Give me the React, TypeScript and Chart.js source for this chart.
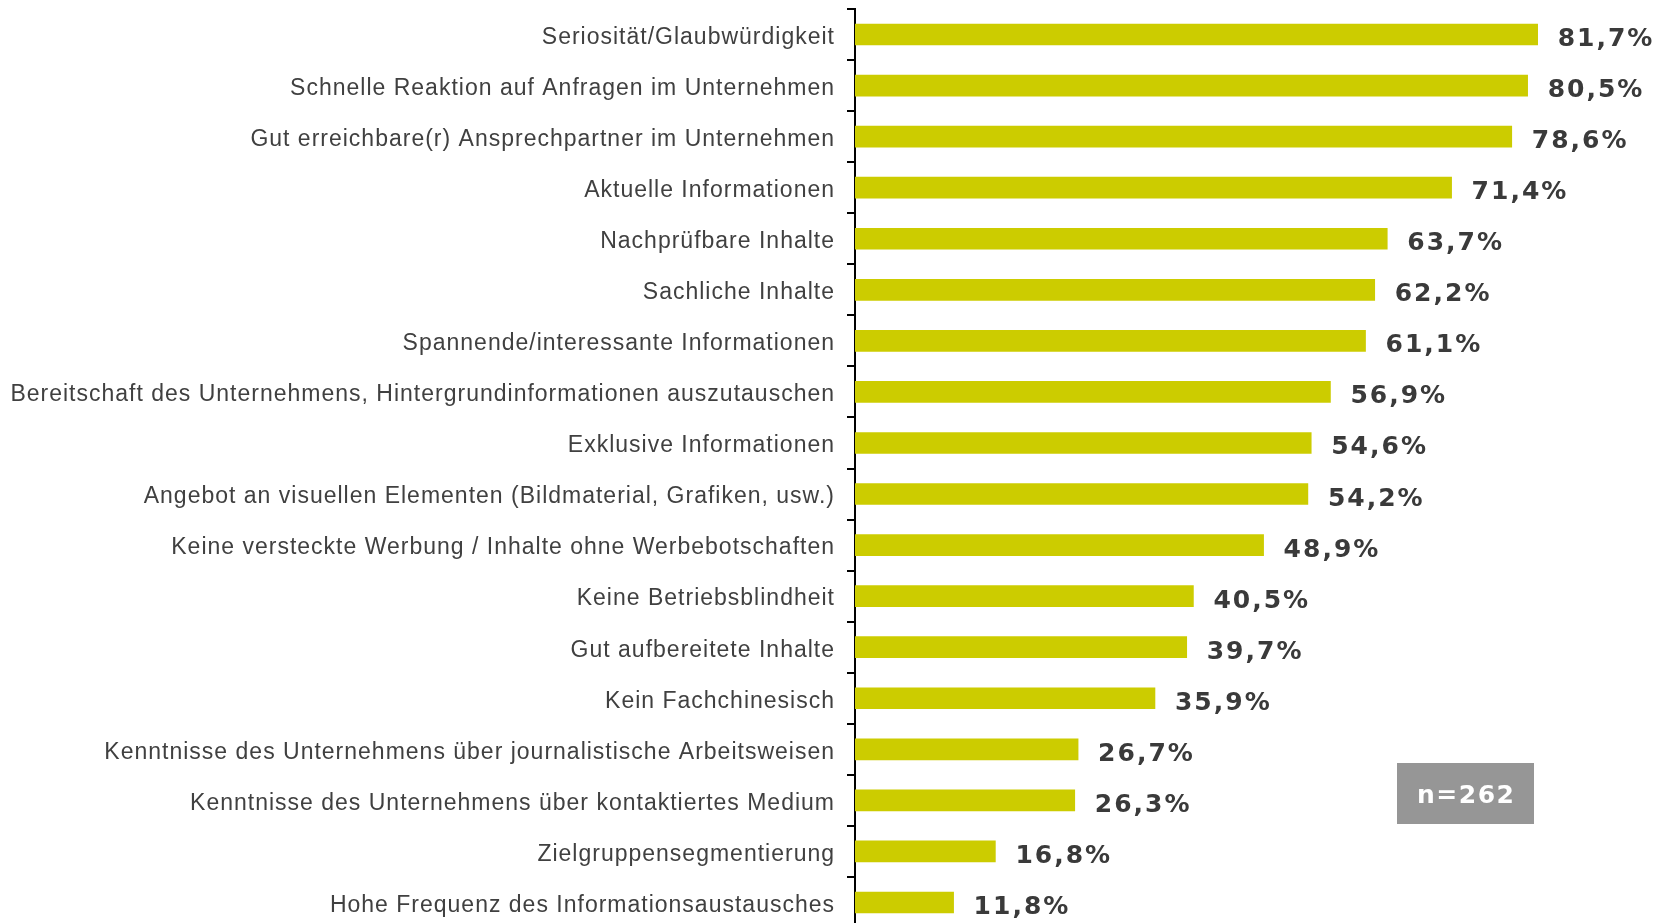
import React, { useEffect, useRef } from "react";
import { Chart, registerables } from "chart.js";

Chart.register(...registerables);

const categories: string[] = [
  "Seriosität/Glaubwürdigkeit",
  "Schnelle Reaktion auf Anfragen im Unternehmen",
  "Gut erreichbare(r) Ansprechpartner im Unternehmen",
  "Aktuelle Informationen",
  "Nachprüfbare Inhalte",
  "Sachliche Inhalte",
  "Spannende/interessante Informationen",
  "Bereitschaft des Unternehmens, Hintergrundinformationen auszutauschen",
  "Exklusive Informationen",
  "Angebot an visuellen Elementen (Bildmaterial, Grafiken, usw.)",
  "Keine versteckte Werbung / Inhalte ohne Werbebotschaften",
  "Keine Betriebsblindheit",
  "Gut aufbereitete Inhalte",
  "Kein Fachchinesisch",
  "Kenntnisse des Unternehmens über journalistische Arbeitsweisen",
  "Kenntnisse des Unternehmens über kontaktiertes Medium",
  "Zielgruppensegmentierung",
  "Hohe Frequenz des Informationsaustausches",
];

const values: number[] = [
  81.7, 80.5, 78.6, 71.4, 63.7, 62.2, 61.1, 56.9, 54.6, 54.2, 48.9, 40.5, 39.7,
  35.9, 26.7, 26.3, 16.8, 11.8,
];

const sampleNote = "n=262";

const fmt = (v: number) => v.toFixed(1).replace(".", ",") + "%";

export default function App() {
  const ref = useRef<HTMLCanvasElement | null>(null);

  useEffect(() => {
    if (!ref.current) return;
    const spacingPlugin = {
      id: "spacing",
      beforeDraw(chart: any) {
        (chart.ctx as any).letterSpacing = "1px";
      },
      afterDraw(chart: any) {
        (chart.ctx as any).letterSpacing = "0px";
      },
    };
    const labelPlugin = {
      id: "valueLabels",
      afterDatasetsDraw(chart: any) {
        const ctx = chart.ctx;
        const meta = chart.getDatasetMeta(0);
        ctx.save();
        (ctx as any).letterSpacing = "2px";
        ctx.font = "bold 25px 'DejaVu Sans', Verdana, sans-serif";
        ctx.fillStyle = "#3a3a3a";
        ctx.textAlign = "left";
        ctx.textBaseline = "alphabetic";
        meta.data.forEach((bar: any, i: number) => {
          ctx.fillText(fmt(values[i]), bar.x + 20, bar.y + 11.5);
        });
        // sample size box
        const bx = 1397, by = 763, bw = 137, bh = 61;
        ctx.fillStyle = "#969696";
        ctx.fillRect(bx, by, bw, bh);
        ctx.fillStyle = "#ffffff";
        ctx.textAlign = "center";
        (ctx as any).letterSpacing = "1.5px";
        ctx.fillText(sampleNote, bx + bw / 2 + 0.75, by + bh / 2 + 9);
        ctx.restore();
      },
    };
    const chart = new Chart(ref.current, {
      type: "bar",
      data: {
        labels: categories,
        datasets: [
          {
            data: values,
            backgroundColor: "#cccc00",
            barThickness: 21,
            borderWidth: 0,
          },
        ],
      },
      options: {
        indexAxis: "y",
        animation: false,
        responsive: true,
        maintainAspectRatio: false,
        layout: { padding: { top: 9, bottom: 0, left: 0, right: 0 } },
        plugins: {
          legend: { display: false },
          tooltip: { enabled: false },
        },
        scales: {
          x: {
            display: false,
            min: 0,
            max: 96.7,
          },
          y: {
            afterFit(scale: any) {
              scale.width = 855;
              scale.paddingTop = 0;
              scale.paddingBottom = 0;
            },
            grid: {
              display: true,
              drawOnChartArea: false,
              drawTicks: true,
              tickLength: 8,
              color: "#000000",
              lineWidth: 2,
              offset: true,
            },
            border: { display: true, color: "#000000", width: 2 },
            ticks: {
              color: "#404040",
              padding: 12,
              labelOffset: 3,
              autoSkip: false,
              font: { family: "'Liberation Sans', Arial, sans-serif", size: 23 },
            },
          },
        },
      },
      plugins: [spacingPlugin, labelPlugin],
    });
    return () => chart.destroy();
  }, []);

  return (
    <div style={{ position: "absolute", left: 0, top: 0, width: 1663, height: 928 }}>
      <canvas ref={ref} />
    </div>
  );
}
